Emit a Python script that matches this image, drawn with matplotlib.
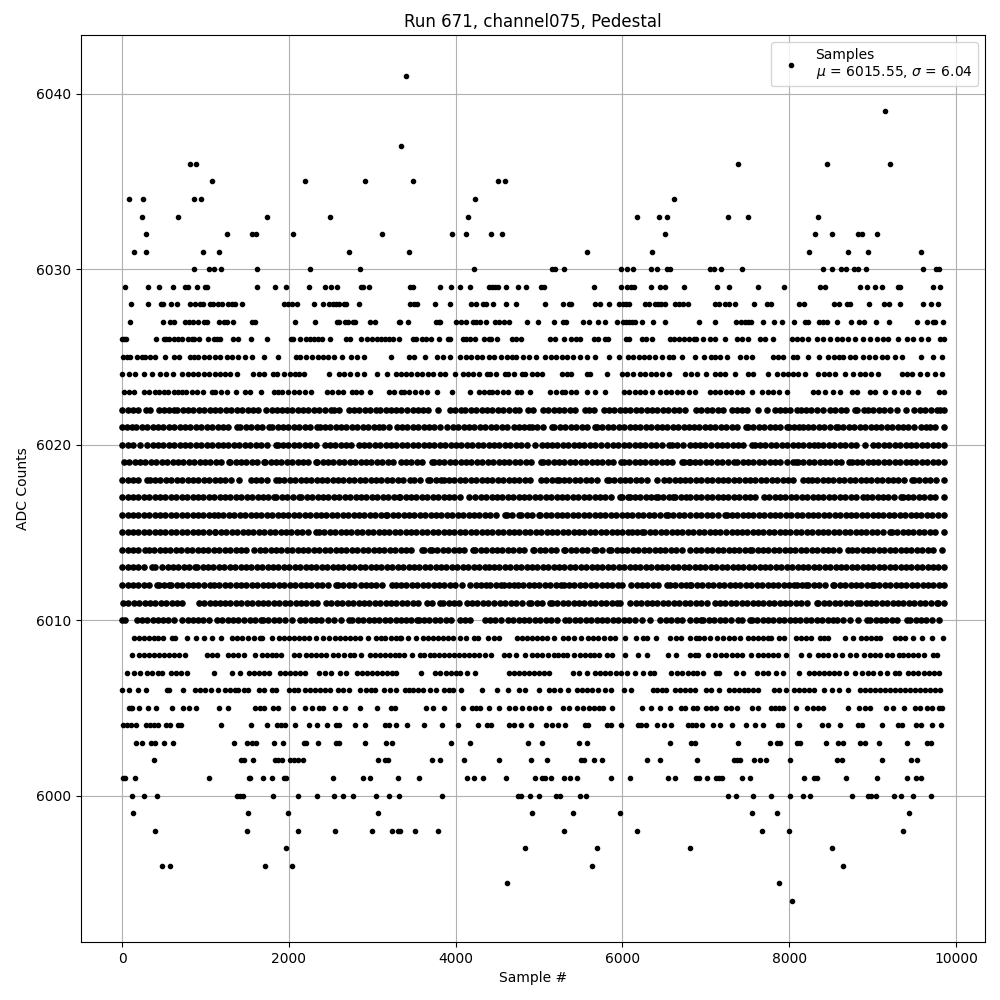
import matplotlib
matplotlib.use('Agg')
import matplotlib.pyplot as plt

# sample numbers at each ADC level
row_5994 = [8036]
row_5995 = [4612, 7880]
row_5996 = [476, 572, 1712, 2036, 5632, 8648]
row_5997 = [1964, 4828, 5692, 6808, 8516]
row_5998 = [392, 1496, 2108, 2552, 2996, 3236, 3308, 3336, 3508, 3784, 5296, 6172, 7676, 8000, 9368]
row_5999 = [128, 1508, 1988, 3068, 4912, 5404, 5968, 7556, 7856, 9440]
row_6000 = [116, 260, 416, 1376, 1412, 1448, 1808, 2108, 2336, 2540, 2648, 2768, 3044, 3200, 3320, 3832, 4744, 4780,
            4888, 4996, 5200, 5248, 5488, 5560, 7268, 7364, 7568, 7784, 8012, 8168, 8252, 8756, 8948, 8984, 9044,
            9260, 9344, 9488, 9704]
row_6001 = [12, 36, 152, 1040, 1520, 1532, 1688, 1796, 1940, 1964, 2528, 2888, 2972, 3308, 3556, 4132, 4216, 4324,
            4600, 4948, 5032, 5068, 5140, 5296, 5368, 5452, 5860, 6088, 6544, 6628, 6880, 6916, 7016, 7124, 7160,
            7196, 7436, 7532, 8180, 8300, 8336, 8684, 9056, 9416, 9524, 9584]
row_6002 = [380, 1424, 1460, 1572, 1832, 1868, 1916, 2012, 2060, 2108, 2168, 3068, 3152, 3188, 3712, 3808, 4096,
            4516, 4900, 5092, 5500, 5536, 5656, 5752, 6292, 6448, 6896, 7340, 7376, 7412, 7580, 7652, 7724, 8012,
            8576, 8636, 9116, 9464, 9536]
row_6003 = [164, 236, 344, 392, 500, 608, 1340, 1496, 1556, 1604, 1820, 1928, 2180, 2204, 2348, 2560, 2600, 2912,
            3164, 3236, 3940, 4168, 4864, 5032, 5476, 5572, 6568, 6820, 6868, 7388, 7772, 7856, 7892, 8096, 8132,
            8444, 8588, 8648, 8852, 8912, 9080, 9416, 9656, 9704]
row_6004 = [12, 60, 108, 164, 284, 332, 380, 428, 524, 572, 668, 704, 1184, 1544, 1732, 1856, 1904, 1952, 2072,
            2240, 2336, 2456, 2560, 2600, 2792, 2912, 3152, 3200, 3284, 3412, 3616, 3832, 4024, 4264, 4372, 4420,
            4636, 4696, 4780, 4900, 5080, 5152, 5224, 5308, 5548, 5584, 5812, 5860, 5980, 6184, 6220, 6280, 6412,
            6496, 6580, 6788, 6836, 6884, 6956, 7088, 7172, 7316, 7484, 7592, 7688, 7868, 7916, 8120, 8396, 8468,
            8612, 8828, 8876, 9116, 9308, 9356, 9524, 9584, 9716, 9824]
row_6005 = [84, 104, 118, 200, 308, 404, 596, 728, 800, 884, 1160, 1268, 1592, 1652, 1700, 1808, 1868, 2048, 2192,
            2276, 2360, 2408, 2552, 2672, 2852, 3056, 3224, 3272, 3640, 3724, 3856, 4084, 4192, 4240, 4288, 4396,
            4516, 4636, 4708, 4792, 4876, 4948, 5020, 5116, 5284, 5356, 5452, 5524, 5596, 5656, 5716, 5764, 5872,
            6232, 6340, 6448, 6568, 6700, 6748, 6844, 6892, 7004, 7064, 7124, 7244, 7304, 7376, 7556, 7628, 7784,
            7832, 7880, 7928, 8084, 8216, 8288, 8348, 8408, 8708, 8840, 8912, 8972, 9164, 9248, 9380, 9512, 9572,
            9656, 9716, 9800, 9836]
row_6006 = [0, 80, 192, 284, 536, 560, 728, 872, 932, 992, 1064, 1148, 1232, 1292, 1352, 1388, 1460, 1508, 1640,
            1700, 1796, 1844, 2000, 2056, 2108, 2192, 2252, 2312, 2372, 2432, 2492, 2588, 2648, 2720, 2852, 2924,
            2984, 3032, 3140, 3212, 3284, 3388, 3436, 3484, 3544, 3604, 3688, 3760, 3856, 3916, 3964, 4060, 4312,
            4492, 4624, 4756, 4828, 4996, 5116, 5176, 5248, 5344, 5452, 5512, 5572, 5632, 5704, 5788, 5860, 6016,
            6100, 6364, 6412, 6472, 6520, 6628, 6688, 6748, 6808, 6868, 7004, 7064, 7160, 7280, 7340, 7400, 7460,
            7508, 7568, 7628, 7820, 7880, 7964, 8060, 8120, 8180, 8240, 8300, 8420, 8516, 8600, 8708, 8852, 8912,
            8972, 9032, 9092, 9152, 9212, 9272, 9332, 9392, 9452, 9512, 9572, 9632, 9692, 9752, 9812]
row_6007 = [56, 140, 212, 296, 356, 428, 476, 584, 644, 704, 776, 1100, 1316, 1412, 1520, 1580, 1640, 1700, 1760,
            1892, 1952, 2012, 2072, 2132, 2192, 2360, 2432, 2504, 2612, 2684, 2816, 2876, 2936, 2996, 3056, 3116,
            3176, 3236, 3284, 3584, 3748, 3808, 3880, 3940, 4000, 4048, 4132, 4228, 4636, 4696, 4756, 4816, 4876,
            4936, 4996, 5056, 5116, 5404, 5476, 5572, 5668, 5728, 5788, 5848, 5920, 5980, 6052, 6148, 6244, 6328,
            6376, 6584, 6656, 6716, 6788, 6848, 6892, 6968, 7124, 7160, 7364, 7448, 7616, 7688, 7748, 7844, 7928,
            8120, 8240, 8300, 8360, 8420, 8480, 8540, 8600, 8684, 8792, 8876, 8948, 9008, 9092, 9176, 9272, 9320,
            9428, 9488, 9548, 9620, 9680, 9740, 9800]
row_6008 = [116, 200, 260, 320, 380, 440, 500, 560, 620, 680, 752, 1016, 1076, 1136, 1268, 1328, 1388, 1460, 1592,
            1676, 1736, 1796, 1844, 1904, 2056, 2116, 2204, 2264, 2324, 2384, 2444, 2528, 2588, 2660, 2732, 2780,
            2868, 2972, 3032, 3092, 3152, 3212, 3272, 3320, 3376, 3472, 3568, 3616, 3688, 3736, 3796, 3856, 3916,
            3976, 4036, 4096, 4156, 4216, 4276, 4348, 4420, 4576, 4636, 4720, 4828, 4912, 4972, 5032, 5104, 5176,
            5224, 5284, 5332, 5416, 5488, 5548, 5608, 5656, 5716, 5812, 5872, 6028, 6184, 6292, 6544, 6640, 6808,
            6868, 6904, 7028, 7112, 7184, 7244, 7316, 7376, 7436, 7544, 7628, 7688, 7748, 7808, 7868, 7964, 8144,
            8240, 8348, 8408, 8468, 8552, 8636, 8732, 8804, 8900, 8972, 9032, 9092, 9176, 9236, 9320, 9368, 9428,
            9488, 9548, 9620, 9728, 9776]
row_6009 = [140, 200, 260, 320, 380, 428, 488, 596, 632, 776, 884, 984, 1080, 1184, 1316, 1376, 1436, 1508, 1580,
            1652, 1676, 1796, 1880, 1940, 2000, 2060, 2120, 2180, 2240, 2324, 2408, 2480, 2552, 2612, 2672, 2732,
            2792, 2852, 2948, 3044, 3104, 3152, 3224, 3284, 3332, 3348, 3424, 3520, 3604, 3664, 3724, 3784, 3844,
            3904, 3964, 4048, 4120, 4216, 4264, 4384, 4456, 4516, 4732, 4792, 4852, 4912, 4972, 5032, 5092, 5176,
            5284, 5344, 5416, 5500, 5584, 5644, 5704, 5776, 5848, 5908, 6028, 6160, 6244, 6292, 6400, 6568, 6640,
            6700, 6808, 6880, 6916, 6980, 7052, 7136, 7208, 7280, 7340, 7412, 7508, 7568, 7628, 7688, 7748, 7784,
            7880, 7940, 8084, 8144, 8204, 8264, 8372, 8420, 8468, 8672, 8768, 8864, 8924, 8984, 9044, 9092, 9272,
            9332, 9392, 9488, 9596, 9716, 9848]
row_6010 = [0, 40, 180, 240, 300, 365, 430, 490, 555, 620, 720, 785, 850, 910, 975, 1040, 1140, 1200, 1265, 1330,
            1395, 1460, 1530, 1595, 1660, 1690, 1755, 1820, 1885, 1950, 2040, 2130, 2195, 2260, 2325, 2390, 2465,
            2540, 2620, 2720, 2760, 2825, 2890, 2955, 3020, 3085, 3150, 3215, 3280, 3340, 3405, 3470, 3536, 3556,
            3620, 3685, 3750, 3815, 3880, 3945, 4048, 4116, 4176, 4348, 4410, 4468, 4548, 4624, 4690, 4755, 4820,
            4885, 4950, 5015, 5080, 5145, 5210, 5316, 5364, 5430, 5495, 5560, 5625, 5690, 5755, 5820, 5885, 5950,
            6015, 6080, 6156, 6236, 6328, 6456, 6520, 6585, 6650, 6715, 6816, 6880, 6948, 6968, 7035, 7100, 7165,
            7230, 7300, 7388, 7428, 7528, 7548, 7615, 7680, 7745, 7810, 7875, 7940, 8005, 8070, 8135, 8200, 8265,
            8330, 8395, 8460, 8528, 8568, 8640, 8728, 8828, 8928, 8968, 9035, 9100, 9165, 9230, 9295, 9408, 9448,
            9515, 9580, 9645, 9710, 9800]
row_6011 = [10, 75, 140, 205, 270, 335, 400, 465, 530, 595, 660, 720, 920, 985, 1050, 1120, 1170, 1235, 1300, 1365,
            1430, 1495, 1560, 1625, 1690, 1755, 1820, 1885, 1950, 2015, 2080, 2145, 2210, 2275, 2340, 2440, 2510,
            2575, 2640, 2705, 2770, 2835, 2900, 2965, 3030, 3095, 3160, 3225, 3290, 3355, 3420, 3485, 3550, 3656,
            3716, 3808, 3848, 3915, 3980, 4045, 4136, 4196, 4260, 4325, 4390, 4456, 4528, 4595, 4660, 4725, 4790,
            4876, 4904, 4970, 5035, 5128, 5156, 5220, 5285, 5350, 5415, 5480, 5545, 5610, 5675, 5740, 5805, 5870,
            5936, 5976, 6096, 6160, 6225, 6290, 6355, 6420, 6485, 6550, 6615, 6680, 6745, 6816, 6880, 6945, 7010,
            7108, 7168, 7235, 7300, 7365, 7430, 7495, 7560, 7625, 7690, 7755, 7820, 7885, 7950, 8015, 8080, 8145,
            8210, 8328, 8348, 8415, 8480, 8545, 8610, 8675, 8740, 8808, 8848, 8915, 8980, 9045, 9110, 9175, 9240,
            9305, 9370, 9435, 9500, 9565, 9630, 9695, 9768, 9790, 9855]
row_6012 = [0, 65, 130, 195, 260, 325, 420, 440, 505, 560, 590, 655, 720, 785, 850, 915, 980, 1060, 1100, 1165, 1230,
            1295, 1360, 1425, 1490, 1555, 1620, 1685, 1750, 1815, 1880, 1945, 2010, 2075, 2140, 2205, 2270, 2335,
            2400, 2465, 2560, 2590, 2655, 2720, 2785, 2860, 2920, 2985, 3050, 3115, 3240, 3280, 3345, 3410, 3475,
            3540, 3605, 3670, 3735, 3800, 3865, 3930, 3995, 4076, 4176, 4240, 4305, 4364, 4416, 4480, 4548, 4584,
            4645, 4704, 4744, 4810, 4875, 4940, 5005, 5070, 5135, 5200, 5264, 5296, 5360, 5425, 5490, 5555, 5620,
            5685, 5750, 5815, 5880, 5945, 5996, 6104, 6170, 6235, 6300, 6365, 6430, 6536, 6568, 6635, 6700, 6765,
            6816, 6828, 6895, 6960, 7025, 7090, 7155, 7220, 7285, 7350, 7415, 7480, 7545, 7610, 7675, 7740, 7805,
            7870, 7935, 8000, 8056, 8088, 8150, 8200, 8228, 8295, 8360, 8425, 8528, 8540, 8605, 8670, 8735, 8800,
            8865, 8930, 8988, 9016, 9080, 9145, 9210, 9275, 9340, 9405, 9470, 9535, 9600, 9665, 9730, 9795, 9855]
row_6013 = [0, 65, 130, 195, 260, 360, 400, 480, 545, 610, 675, 740, 805, 880, 900, 965, 1030, 1095, 1160, 1225, 1290,
            1355, 1420, 1485, 1550, 1615, 1680, 1745, 1810, 1875, 1940, 2005, 2070, 2135, 2200, 2265, 2330, 2395,
            2460, 2525, 2590, 2655, 2720, 2785, 2850, 2915, 2980, 3045, 3110, 3175, 3240, 3305, 3370, 3435, 3500,
            3565, 3630, 3695, 3760, 3825, 3890, 3955, 4020, 4085, 4150, 4215, 4280, 4356, 4396, 4460, 4525, 4590,
            4655, 4720, 4785, 4850, 4915, 4980, 5045, 5110, 5175, 5240, 5305, 5370, 5435, 5500, 5565, 5630, 5695,
            5760, 5825, 5890, 5955, 6020, 6085, 6150, 6215, 6280, 6345, 6410, 6475, 6540, 6605, 6670, 6735, 6800,
            6865, 6930, 6995, 7060, 7125, 7190, 7255, 7320, 7385, 7450, 7515, 7580, 7645, 7710, 7775, 7840, 7905,
            7970, 8035, 8100, 8165, 8230, 8295, 8360, 8425, 8490, 8555, 8620, 8685, 8750, 8815, 8880, 8945, 9010,
            9075, 9140, 9205, 9270, 9335, 9400, 9465, 9530, 9595, 9660, 9725, 9790, 9855]
row_6014 = [0, 65, 130, 195, 280, 320, 385, 450, 515, 580, 645, 710, 775, 840, 905, 970, 1035, 1100, 1165, 1230,
            1295, 1360, 1425, 1490, 1580, 1652, 1715, 1780, 1845, 1910, 1975, 2040, 2105, 2170, 2235, 2300, 2365,
            2430, 2495, 2560, 2625, 2690, 2755, 2820, 2885, 2950, 3015, 3080, 3145, 3210, 3275, 3340, 3405, 3470,
            3596, 3616, 3688, 3716, 3780, 3845, 3910, 3975, 4040, 4105, 4208, 4236, 4300, 4365, 4430, 4495, 4560,
            4625, 4690, 4755, 4820, 4928, 4944, 5010, 5075, 5140, 5205, 5296, 5316, 5380, 5445, 5510, 5575, 5656,
            5684, 5750, 5836, 5864, 5930, 5995, 6060, 6125, 6190, 6255, 6320, 6385, 6450, 6515, 6580, 6645, 6710,
            6816, 6880, 6945, 7010, 7075, 7140, 7205, 7272, 7335, 7400, 7465, 7528, 7556, 7620, 7685, 7750, 7815,
            7880, 7945, 8010, 8075, 8140, 8205, 8270, 8335, 8400, 8465, 8530, 8595, 8708, 8748, 8815, 8880, 8945,
            9010, 9075, 9140, 9205, 9270, 9335, 9400, 9465, 9530, 9595, 9660, 9725, 9828]
row_6015 = [0, 65, 130, 195, 260, 325, 390, 455, 520, 585, 650, 715, 780, 845, 910, 975, 1040, 1110, 1120, 1185, 1250,
            1315, 1380, 1445, 1510, 1575, 1640, 1705, 1770, 1835, 1900, 1965, 2030, 2095, 2160, 2225, 2330, 2360,
            2425, 2490, 2555, 2620, 2685, 2750, 2815, 2880, 2945, 3010, 3075, 3140, 3205, 3270, 3335, 3400, 3465,
            3530, 3595, 3660, 3725, 3790, 3855, 3920, 3985, 4050, 4115, 4180, 4245, 4310, 4375, 4440, 4505, 4570,
            4635, 4700, 4765, 4830, 4895, 4960, 5025, 5090, 5155, 5220, 5285, 5350, 5415, 5480, 5545, 5610, 5675,
            5740, 5805, 5870, 5935, 6000, 6064, 6116, 6180, 6236, 6264, 6330, 6395, 6460, 6525, 6590, 6655, 6720,
            6785, 6850, 6915, 6980, 7045, 7110, 7175, 7240, 7308, 7368, 7430, 7495, 7560, 7625, 7690, 7755, 7820,
            7885, 7950, 8015, 8080, 8145, 8210, 8275, 8340, 8405, 8470, 8535, 8600, 8665, 8730, 8795, 8860, 8925,
            8990, 9055, 9120, 9208, 9228, 9295, 9360, 9425, 9490, 9555, 9620, 9685, 9750, 9855]
row_6016 = [0, 65, 130, 195, 260, 325, 390, 455, 520, 585, 650, 715, 780, 845, 910, 975, 1040, 1100, 1150, 1215, 1280,
            1345, 1410, 1475, 1540, 1605, 1670, 1735, 1800, 1865, 1930, 1995, 2060, 2125, 2190, 2255, 2320, 2385,
            2450, 2515, 2580, 2645, 2710, 2775, 2840, 2905, 2970, 3035, 3100, 3160, 3180, 3245, 3310, 3375, 3440,
            3505, 3570, 3635, 3700, 3765, 3830, 3895, 3960, 4025, 4090, 4155, 4220, 4285, 4350, 4415, 4480, 4596,
            4616, 4680, 4756, 4784, 4850, 4915, 4996, 5016, 5080, 5145, 5210, 5275, 5340, 5405, 5470, 5535, 5600,
            5665, 5730, 5795, 5860, 5925, 5990, 6055, 6120, 6185, 6250, 6315, 6380, 6445, 6528, 6548, 6610, 6675,
            6740, 6816, 6880, 6945, 7010, 7075, 7140, 7228, 7248, 7310, 7375, 7440, 7505, 7570, 7635, 7700, 7765,
            7830, 7895, 7960, 8025, 8090, 8155, 8220, 8285, 8350, 8415, 8480, 8545, 8610, 8675, 8740, 8805, 8870,
            8935, 9000, 9065, 9130, 9195, 9260, 9325, 9390, 9455, 9520, 9585, 9650, 9715, 9780, 9855]
row_6017 = [0, 65, 130, 195, 260, 325, 390, 455, 520, 585, 650, 715, 780, 845, 910, 975, 1040, 1105, 1170, 1235,
            1300, 1365, 1430, 1495, 1560, 1625, 1690, 1755, 1820, 1850, 1915, 1980, 2045, 2125, 2150, 2215, 2280,
            2345, 2410, 2475, 2540, 2605, 2670, 2735, 2800, 2865, 2930, 2995, 3060, 3125, 3190, 3255, 3320, 3336,
            3400, 3465, 3530, 3595, 3660, 3725, 3790, 3855, 3920, 3985, 4050, 4164, 4236, 4300, 4365, 4430, 4495,
            4560, 4625, 4690, 4755, 4820, 4885, 4950, 5015, 5080, 5145, 5210, 5275, 5340, 5405, 5470, 5535, 5600,
            5665, 5730, 5795, 5860, 5976, 5996, 6064, 6088, 6150, 6215, 6280, 6345, 6408, 6424, 6490, 6555, 6608,
            6636, 6700, 6765, 6816, 6880, 6945, 7010, 7075, 7140, 7205, 7270, 7335, 7400, 7465, 7530, 7595, 7696,
            7760, 7825, 7890, 7955, 8020, 8085, 8150, 8215, 8280, 8345, 8410, 8475, 8540, 8605, 8670, 8735, 8800,
            8888, 8928, 8995, 9060, 9125, 9190, 9255, 9336, 9360, 9425, 9490, 9555, 9620, 9685, 9750, 9855]
row_6018 = [0, 65, 130, 195, 300, 332, 395, 460, 525, 590, 655, 720, 785, 850, 915, 980, 1045, 1110, 1175, 1240,
            1305, 1400, 1540, 1605, 1670, 1735, 1840, 1880, 1945, 2010, 2075, 2140, 2205, 2270, 2335, 2400, 2460,
            2525, 2590, 2655, 2720, 2785, 2850, 2915, 2980, 3045, 3110, 3175, 3240, 3305, 3370, 3456, 3504, 3570,
            3668, 3688, 3760, 3824, 3856, 3920, 3985, 4050, 4115, 4180, 4245, 4310, 4375, 4440, 4505, 4570, 4635,
            4700, 4765, 4830, 4895, 5024, 5084, 5150, 5216, 5236, 5300, 5365, 5430, 5495, 5560, 5625, 5690, 5816,
            5836, 5900, 5965, 6030, 6095, 6160, 6225, 6290, 6416, 6496, 6560, 6625, 6690, 6755, 6816, 6880, 6945,
            7010, 7075, 7140, 7205, 7270, 7335, 7400, 7465, 7530, 7595, 7660, 7725, 7790, 7855, 7920, 7985, 8050,
            8168, 8228, 8268, 8335, 8400, 8465, 8530, 8595, 8660, 8725, 8790, 8855, 8920, 8985, 9050, 9115, 9180,
            9245, 9310, 9375, 9468, 9496, 9560, 9625, 9690, 9755, 9855]
row_6019 = [20, 85, 150, 215, 280, 345, 410, 475, 540, 605, 670, 735, 800, 865, 930, 995, 1060, 1125, 1190, 1280,
            1292, 1360, 1425, 1490, 1555, 1620, 1700, 1712, 1780, 1845, 1910, 1975, 2040, 2105, 2170, 2235, 2320,
            2340, 2405, 2470, 2535, 2600, 2665, 2730, 2795, 2860, 2925, 2990, 3055, 3120, 3185, 3250, 3340, 3405,
            3470, 3535, 3600, 3716, 3736, 3800, 3865, 3930, 3995, 4060, 4125, 4190, 4255, 4320, 4385, 4450, 4515,
            4580, 4645, 4710, 4775, 4840, 4905, 5024, 5048, 5110, 5175, 5240, 5305, 5370, 5435, 5500, 5565, 5630,
            5695, 5760, 5825, 5890, 5984, 6016, 6080, 6145, 6210, 6275, 6340, 6405, 6470, 6535, 6600, 6716, 6736,
            6796, 6808, 6870, 6935, 7000, 7065, 7130, 7195, 7260, 7340, 7376, 7440, 7505, 7570, 7635, 7700, 7765,
            7830, 7895, 7968, 8040, 8080, 8108, 8170, 8235, 8300, 8365, 8430, 8495, 8560, 8625, 8720, 8748, 8810,
            8875, 8940, 9005, 9070, 9135, 9200, 9265, 9330, 9395, 9460, 9525, 9590, 9655, 9720, 9785, 9855]
row_6020 = [0, 65, 130, 212, 300, 368, 430, 495, 560, 625, 690, 755, 820, 885, 950, 1015, 1080, 1145, 1210, 1275,
            1340, 1405, 1470, 1535, 1600, 1668, 1735, 1840, 1868, 1930, 1995, 2060, 2125, 2190, 2255, 2320, 2428,
            2492, 2555, 2620, 2685, 2750, 2840, 2900, 2965, 3030, 3095, 3160, 3225, 3290, 3355, 3420, 3485, 3550,
            3615, 3680, 3745, 3810, 3875, 3940, 4005, 4070, 4135, 4200, 4265, 4330, 4395, 4460, 4525, 4590, 4655,
            4720, 4785, 4850, 4956, 5036, 5100, 5156, 5216, 5284, 5350, 5415, 5480, 5545, 5610, 5675, 5740, 5816,
            5888, 5950, 6015, 6080, 6145, 6210, 6275, 6340, 6405, 6470, 6556, 6596, 6660, 6725, 6816, 6868, 6928,
            6995, 7068, 7128, 7190, 7255, 7320, 7385, 7450, 7548, 7588, 7650, 7715, 7780, 7845, 7910, 7975, 8040,
            8105, 8170, 8235, 8296, 8348, 8410, 8475, 8540, 8605, 8670, 8735, 8800, 8908, 9008, 9070, 9135, 9200,
            9265, 9330, 9395, 9460, 9525, 9590, 9655, 9720, 9785, 9855]
row_6021 = [0, 60, 120, 172, 235, 300, 365, 430, 495, 560, 625, 690, 755, 820, 885, 950, 1015, 1080, 1145, 1210,
            1275, 1372, 1412, 1488, 1550, 1615, 1680, 1760, 1800, 1865, 1930, 1995, 2060, 2125, 2190, 2255, 2340,
            2368, 2430, 2495, 2560, 2625, 2690, 2755, 2820, 2885, 2950, 3015, 3080, 3132, 3200, 3300, 3356, 3420,
            3485, 3550, 3615, 3680, 3745, 3810, 3896, 3968, 4030, 4095, 4160, 4225, 4290, 4355, 4420, 4485, 4550,
            4615, 4704, 4756, 4820, 4884, 4916, 4980, 5045, 5156, 5184, 5250, 5315, 5380, 5445, 5510, 5575, 5676,
            5696, 5760, 5825, 5890, 5955, 6020, 6085, 6150, 6215, 6280, 6345, 6410, 6475, 6540, 6605, 6670, 6735,
            6796, 6856, 6920, 6985, 7050, 7115, 7180, 7245, 7310, 7375, 7480, 7508, 7570, 7635, 7700, 7765, 7830,
            7895, 7968, 7996, 8060, 8120, 8160, 8225, 8290, 8355, 8420, 8485, 8560, 8588, 8650, 8715, 8780, 8845,
            8910, 8975, 9040, 9105, 9170, 9235, 9308, 9368, 9430, 9495, 9576, 9636, 9688, 9750, 9855]
row_6022 = [0, 65, 130, 195, 288, 340, 440, 500, 560, 620, 660, 725, 790, 855, 920, 985, 1050, 1115, 1180, 1245,
            1310, 1375, 1440, 1505, 1570, 1635, 1720, 1800, 1860, 1920, 1980, 2040, 2108, 2172, 2235, 2300, 2365,
            2430, 2508, 2540, 2605, 2720, 2780, 2845, 2910, 2975, 3040, 3092, 3160, 3225, 3290, 3350, 3415, 3488,
            3544, 3604, 3670, 3784, 3928, 3990, 4064, 4116, 4180, 4245, 4310, 4375, 4440, 4505, 4570, 4635, 4716,
            4756, 4864, 4928, 5048, 5110, 5175, 5240, 5305, 5370, 5435, 5556, 5596, 5660, 5776, 5836, 5900, 5965,
            6030, 6095, 6160, 6225, 6290, 6355, 6420, 6485, 6550, 6615, 6680, 6745, 6888, 6948, 7010, 7075, 7140,
            7205, 7308, 7368, 7430, 7495, 7628, 7736, 7828, 7888, 7948, 8010, 8088, 8136, 8200, 8265, 8330, 8408,
            8488, 8550, 8615, 8680, 8788, 8808, 8896, 8948, 9010, 9075, 9140, 9205, 9288, 9400, 9496, 9568, 9630,
            9695, 9768, 9808, 9855]
row_6023 = [20, 80, 140, 260, 325, 390, 440, 500, 552, 620, 670, 720, 772, 835, 900, 965, 1080, 1120, 1190, 1260,
            1360, 1468, 1532, 1668, 1820, 1870, 1920, 1988, 2060, 2125, 2190, 2260, 2452, 2520, 2588, 2650, 2760,
            2800, 2865, 2972, 3200, 3265, 3340, 3380, 3436, 3516, 3585, 3656, 3776, 3956, 4176, 4276, 4335, 4396,
            4436, 4500, 4565, 4630, 4736, 4784, 4896, 5136, 5205, 5276, 5316, 5380, 5445, 5576, 5676, 5796, 6016,
            6080, 6145, 6210, 6275, 6356, 6456, 6520, 6585, 6650, 6715, 6796, 6868, 7048, 7110, 7175, 7240, 7305,
            7370, 7435, 7548, 7668, 7740, 7808, 7880, 7976, 8288, 8348, 8432, 8528, 8608, 8748, 8808, 8968, 9028,
            9148, 9256, 9348, 9428, 9548, 9800, 9855]
row_6024 = [0, 80, 160, 260, 360, 452, 530, 612, 720, 785, 850, 915, 980, 1045, 1110, 1175, 1240, 1300, 1380, 1572,
            1640, 1705, 1812, 1860, 1940, 2012, 2068, 2125, 2180, 2476, 2600, 2665, 2730, 2820, 2900, 3060, 3172,
            3280, 3340, 3405, 3470, 3535, 3600, 3665, 3730, 3816, 3876, 3996, 4088, 4144, 4210, 4275, 4376,
            4416, 4480, 4596, 4624, 4696, 4796, 4836, 4916, 4975, 5036, 5276, 5336, 5384, 5576, 5616, 5816, 5996,
            6060, 6125, 6216, 6276, 6340, 6405, 6470, 6556, 6756, 6828, 6895, 7008, 7108, 7165, 7228, 7348, 7508,
            7568, 7748, 7848, 7920, 7985, 8048, 8108, 8188, 8348, 8415, 8480, 8548, 8668, 8768, 8848, 8908, 8975,
            9068, 9348, 9410, 9468, 9568, 9648, 9748, 9828]
row_6025 = [10, 60, 100, 180, 240, 280, 340, 400, 520, 620, 680, 812, 860, 912, 980, 1040, 1120, 1180, 1260, 1320,
            1388, 1468, 1560, 1700, 1868, 2080, 2130, 2200, 2280, 2345, 2410, 2475, 2540, 2640, 2740, 2820, 2900,
            3224, 3436, 3504, 3628, 3776, 3850, 3928, 4056, 4120, 4185, 4250, 4316, 4396, 4456, 4548, 4610, 4670,
            4728, 4804, 4876, 4964, 5076, 5140, 5205, 5276, 5336, 5410, 5488, 5576, 5676, 5836, 5956, 6064, 6130,
            6195, 6260, 6316, 6396, 6480, 6556, 6608, 6716, 6876, 6980, 7068, 7108, 7175, 7248, 7408, 7480, 7548,
            7808, 7870, 7928, 8048, 8088, 8224, 8360, 8468, 8535, 8600, 8648, 8728, 8788, 8888, 8955, 9028, 9108,
            9175, 9268, 9356, 9576, 9728, 9828]
row_6026 = [0, 20, 52, 404, 500, 524, 560, 620, 668, 716, 788, 836, 860, 920, 1028, 1100, 1140, 1172, 1328, 1388,
            1544, 1736, 2024, 2048, 2132, 2204, 2252, 2300, 2348, 2396, 2492, 2684, 2732, 2864, 2936, 2996, 3056,
            3104, 3152, 3200, 3248, 3320, 3484, 3520, 3592, 3640, 3700, 3800, 3904, 3928, 4084, 4120, 4168, 4228,
            4336, 4396, 4420, 4492, 4672, 4720, 4780, 5128, 5188, 5296, 5380, 5440, 5488, 5656, 5704, 5788, 5824,
            6040, 6076, 6232, 6280, 6352, 6568, 6616, 6676, 6736, 6796, 6856, 6888, 6968, 7048, 7108, 7228, 7368,
            7428, 7508, 7648, 7708, 7808, 8028, 8088, 8148, 8228, 8328, 8408, 8488, 8568, 8628, 8708, 8788, 8888,
            8968, 9048, 9128, 9188, 9308, 9408, 9488, 9576, 9668, 9808, 9855]
row_6027 = [92, 488, 572, 620, 752, 800, 848, 908, 980, 1016, 1160, 1220, 1256, 1328, 1556, 1592, 2072, 2312, 2576,
            2600, 2672, 2708, 2768, 2792, 2972, 3032, 3320, 3336, 3424, 3764, 3796, 3816, 4000, 4060, 4120, 4204,
            4240, 4288, 4360, 4468, 4516, 4576, 4640, 4852, 4984, 5176, 5284, 5320, 5524, 5596, 5704, 5788, 5932,
            6004, 6040, 6076, 6112, 6148, 6232, 6364, 6508, 6916, 7112, 7364, 7424, 7468, 7508, 7544, 7688, 7820,
            7916, 8060, 8192, 8228, 8360, 8408, 8456, 8576, 8744, 8840, 8900, 9044, 9200, 9536, 9656, 9728, 9752,
            9848]
row_6028 = [104, 308, 464, 488, 584, 656, 812, 872, 932, 968, 1052, 1088, 1148, 1196, 1268, 1316, 1352, 1436, 1940,
            1988, 2036, 2096, 2300, 2408, 2480, 2528, 2564, 2600, 2660, 2684, 2840, 3448, 3496, 3536, 3752, 3928,
            4180, 4240, 4324, 4360, 4444, 4600, 4720, 5068, 5284, 5356, 5380, 5668, 5728, 5836, 5956, 6004, 6040,
            6076, 6268, 6316, 6388, 6424, 6460, 6508, 6628, 6676, 6724, 6784, 7108, 7160, 7228, 7276, 7352, 7580,
            7736, 7776, 8120, 8180, 8540, 8600, 8696, 8728, 8960, 9140, 9200, 9332, 9608, 9704, 9788]
row_6029 = [32, 308, 440, 608, 760, 788, 896, 992, 1024, 1616, 1832, 1964, 2240, 2432, 2504, 2576, 2864, 2892, 2960,
            3456, 3488, 3808, 3940, 4048, 4168, 4396, 4432, 4468, 4504, 4600, 4744, 4840, 5020, 5056, 5656, 5980,
            6052, 6100, 6136, 6340, 6448, 6508, 6736, 7132, 7280, 7628, 7940, 8372, 8432, 8852, 8936, 9032, 9116,
            9308, 9328, 9728, 9812]
row_6030 = [860, 1040, 1108, 1184, 1616, 2252, 2852, 4216, 5156, 5188, 5296, 5988, 6056, 6124, 6340, 6412, 6536,
            6576, 7056, 7100, 7184, 7436, 8408, 8516, 8620, 8676, 8776, 8828, 8924, 9608, 9760, 9796]
row_6031 = [140, 284, 968, 1160, 2720, 3436, 5572, 6352, 8240, 8708, 8948, 9584]
row_6032 = [284, 1256, 1560, 1604, 2048, 3116, 3952, 4120, 4420, 4552, 6508, 8312, 8516, 8828, 8868, 9056]
row_6033 = [236, 668, 1736, 2492, 4144, 6172, 6436, 6532, 7268, 7508, 8348]
row_6034 = [80, 248, 860, 948, 4228, 6616]
row_6035 = [1076, 2192, 2912, 3484, 4504, 4592]
row_6036 = [812, 888, 7388, 8456, 9212]
row_6037 = [3340]
row_6039 = [9152]
row_6041 = [3410]

adc_rows = {5994: row_5994, 5995: row_5995, 5996: row_5996, 5997: row_5997, 5998: row_5998, 5999: row_5999,
            6000: row_6000, 6001: row_6001, 6002: row_6002, 6003: row_6003, 6004: row_6004, 6005: row_6005,
            6006: row_6006, 6007: row_6007, 6008: row_6008, 6009: row_6009, 6010: row_6010, 6011: row_6011,
            6012: row_6012, 6013: row_6013, 6014: row_6014, 6015: row_6015, 6016: row_6016, 6017: row_6017,
            6018: row_6018, 6019: row_6019, 6020: row_6020, 6021: row_6021, 6022: row_6022, 6023: row_6023,
            6024: row_6024, 6025: row_6025, 6026: row_6026, 6027: row_6027, 6028: row_6028, 6029: row_6029,
            6030: row_6030, 6031: row_6031, 6032: row_6032, 6033: row_6033, 6034: row_6034, 6035: row_6035,
            6036: row_6036, 6037: row_6037, 6039: row_6039, 6041: row_6041}

# the solid middle rows get a slightly fatter dot so neighbours close up
band_low = 6010
band_high = 6022

samples = []
counts = []
band_samples = []
band_counts = []
for level, row in adc_rows.items():
    if band_low <= level <= band_high:
        band_samples += row
        band_counts += [level]*len(row)
    else:
        samples += row
        counts += [level]*len(row)

fig1 = plt.figure(figsize=(10, 10), dpi=100)
ax1 = fig1.add_subplot(111)
ax1.plot(samples, counts, 'k.', label='Samples\n$\\mu$ = 6015.55, $\\sigma$ = 6.04')
ax1.plot(band_samples, band_counts, 'k.', markersize=7.5)
ax1.grid(True)
ax1.set_title('Run 671, channel075, Pedestal')
ax1.set_xlabel('Sample #')
ax1.set_ylabel('ADC Counts')
ax1.legend(loc='upper right')
fig1.subplots_adjust(left=0.081, right=0.985, top=0.965, bottom=0.058)
fig1.savefig('out.png')
